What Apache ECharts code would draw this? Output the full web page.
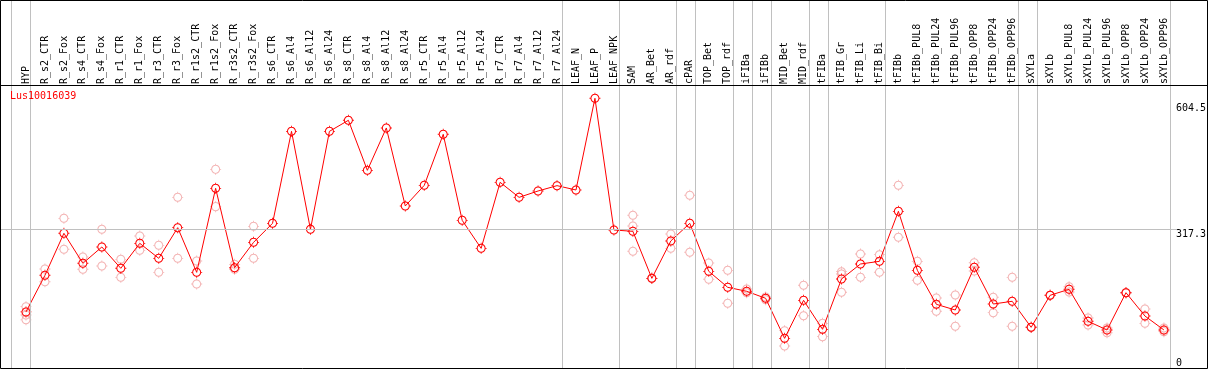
<!DOCTYPE html>
<html><head><meta charset="utf-8">
<script src="https://cdn.jsdelivr.net/npm/echarts@6/dist/echarts.min.js"></script>
<style>html,body{margin:0;padding:0;background:#fff}#c{width:1209px;height:370px}</style>
</head><body><div id="c"></div>
<script>
const categories = ["HYP","R_s2_CTR","R_s2_Fox","R_s4_CTR","R_s4_Fox","R_r1_CTR","R_r1_Fox","R_r3_CTR","R_r3_Fox","R_r1s2_CTR","R_r1s2_Fox","R_r3s2_CTR","R_r3s2_Fox","R_s6_CTR","R_s6_Al4","R_s6_Al12","R_s6_Al24","R_s8_CTR","R_s8_Al4","R_s8_Al12","R_s8_Al24","R_r5_CTR","R_r5_Al4","R_r5_Al12","R_r5_Al24","R_r7_CTR","R_r7_Al4","R_r7_Al12","R_r7_Al24","LEAF_N","LEAF_P","LEAF_NPK","SAM","AR_Bet","AR_rdf","cPAR","TOP_Bet","TOP_rdf","iFIBa","iFIBb","MID_Bet","MID_rdf","tFIBa","tFIB_Gr","tFIB_Li","tFIB_Bi","tFIBb","tFIBb_PUL8","tFIBb_PUL24","tFIBb_PUL96","tFIBb_OPP8","tFIBb_OPP24","tFIBb_OPP96","sXYLa","sXYLb","sXYLb_PUL8","sXYLb_PUL24","sXYLb_PUL96","sXYLb_OPP8","sXYLb_OPP24","sXYLb_OPP96"];
const means = [128,211.6,307.5,239,276.3,227.6,284.6,250.4,320.4,218.4,410.2,229,286.9,330.3,540.3,316.6,540.3,565.5,451.3,548,369.9,417,533.5,337.1,273.2,423.9,389.6,404.1,416.3,406.4,615.7,315.1,312,204.7,290,330.3,220.7,184.2,175.1,159.1,67.7,154.5,88.3,203.2,237.4,243.5,357.7,223,145.4,132.4,229.9,146.1,152.3,92.9,166,179.7,106.6,86.8,171.9,118.7,86.8];
const rep1 = [140,226,341.7,253.4,316.6,248.1,301.4,280,389.6,244.3,453.5,236.7,323.4,null,null,null,null,null,null,null,null,null,null,null,null,null,null,null,null,null,null,null,348.6,204.7,306,394.3,239.7,223,180.4,162,85.2,188.8,102,219.9,260.3,258.7,417,243.5,159.8,166.7,240.4,161.4,207,92.9,166,185.6,114.2,91.3,171.9,134.7,91.3];
const rep2 = [110,197,271,225.3,232.9,207,268.6,218.4,250.4,191.8,368.4,225.3,250.4,null,null,null,null,null,null,null,null,null,null,null,null,null,null,null,null,null,null,null,266.4,204.7,273.2,264.2,202.5,147.7,171.9,156,50.2,119.4,71.5,172.8,207,218.5,298.4,200.2,129.5,95.2,221.5,126.3,95.2,92.9,166,173.5,98.2,80.6,171.9,102,83];
const rep3 = [121,null,null,null,null,null,null,null,null,null,null,null,null,null,null,null,null,null,null,null,null,null,null,null,null,null,null,null,null,null,null,null,324.2,null,null,null,null,null,null,null,null,null,null,214.6,null,null,null,null,null,null,null,null,null,null,null,null,null,null,null,null,null];
const axisLabelsTop = [317.3, 604.5];
const axisLabelsBottom = [0];
const groupEnds = [-1,0,28,31,34,35,37,38,39,41,42,45,52,53,60];
const title = "Lus10016039";

// ring (outer r 8.2, inner r 6.4) with four short ticks, in a 20x20 box
const ring = 'path://M1.8 10C1.8 5.471 5.471 1.8 10 1.8C14.529 1.8 18.2 5.471 18.2 10C18.2 14.529 14.529 18.2 10 18.2C5.471 18.2 1.8 14.529 1.8 10Z' +
  'M3.6 10C3.6 13.535 6.465 16.4 10 16.4C13.535 16.4 16.4 13.535 16.4 10C16.4 6.465 13.535 3.6 10 3.6C6.465 3.6 3.6 6.465 3.6 10Z' +
  'M9.2 0L10.8 0L10.8 2L9.2 2ZM9.2 18L10.8 18L10.8 20L9.2 20ZM0 9.2L2 9.2L2 10.8L0 10.8ZM18 9.2L20 9.2L20 10.8L18 10.8Z';
const repData = [];
[rep1, rep2, rep3].forEach(r => r.forEach((v, i) => { if (v !== null) repData.push([i, v]); }));

const FONT = 'DejaVu Sans Mono';
const YMAX = 643.8;
const chart = echarts.init(document.getElementById('c'), null, {renderer: 'canvas'});
chart.setOption({
  animation: false,
  backgroundColor: '#fff',
  title: {text: title, left: 10, top: 91, padding: 0, textStyle: {color: '#ff0000', fontSize: 10, fontFamily: FONT, fontWeight: 'normal'}},
  grid: [
    {left: 16.5, right: 33.5, top: 86, bottom: 2},
    {left: 1, right: 32, top: 0, bottom: 2}
  ],
  xAxis: [
    {type: 'category', gridIndex: 0, data: categories, position: 'top', boundaryGap: true,
     axisLine: {show: false}, axisTick: {show: false}, splitLine: {show: false},
     axisLabel: {rotate: 90, interval: 0, margin: 2, fontSize: 10, fontFamily: FONT, color: '#000'}},
    {type: 'value', gridIndex: 1, min: -1.3158, max: 60.5789, show: false, splitLine: {show: false}}
  ],
  yAxis: [
    {type: 'value', gridIndex: 0, position: 'right', min: 0, max: YMAX,
     axisLine: {show: false}, axisTick: {show: false}, splitLine: {show: false},
     axisLabel: {customValues: axisLabelsTop, margin: 2.5, fontSize: 10, fontFamily: FONT, color: '#000', verticalAlign: 'top', formatter: v => String(v)}},
    {type: 'value', gridIndex: 0, position: 'right', min: 0, max: YMAX,
     axisLine: {show: false}, axisTick: {show: false}, splitLine: {show: false},
     axisLabel: {customValues: axisLabelsBottom, margin: 2.5, fontSize: 10, fontFamily: FONT, color: '#000', verticalAlign: 'bottom', formatter: v => String(v)}},
    {type: 'value', gridIndex: 1, min: 0, max: 840.18, show: false, splitLine: {show: false}}
  ],
  series: [
    {type: 'line', xAxisIndex: 1, yAxisIndex: 2, data: [], silent: true,
     markLine: {symbol: 'none', silent: true, label: {show: false},
       lineStyle: {color: '#c0c0c0', width: 1, type: 'solid'},
       data: groupEnds.map(g => ({xAxis: g + 0.2368})).concat(axisLabelsTop.slice(0,1).map(v => ({yAxis: v})))}},
    {type: 'scatter', xAxisIndex: 0, yAxisIndex: 0, data: repData, symbol: ring, symbolSize: 11,
     itemStyle: {color: '#f0a0a0'}, z: 3},
    {type: 'line', xAxisIndex: 0, yAxisIndex: 0, data: means, symbol: ring, symbolSize: 11,
     showAllSymbol: true, lineStyle: {color: '#ff0000', width: 1}, itemStyle: {color: '#ff0000'}, z: 4}
  ],
  graphic: [
    {type: 'rect', shape: {x: 0.5, y: 0.5, width: 1207, height: 368}, style: {fill: null, stroke: '#000', lineWidth: 1}, z: 100, silent: true},
    {type: 'line', shape: {x1: 0, y1: 85.5, x2: 1208, y2: 85.5}, style: {stroke: '#000', lineWidth: 1}, z: 100, silent: true}
  ]
});
</script></body></html>
